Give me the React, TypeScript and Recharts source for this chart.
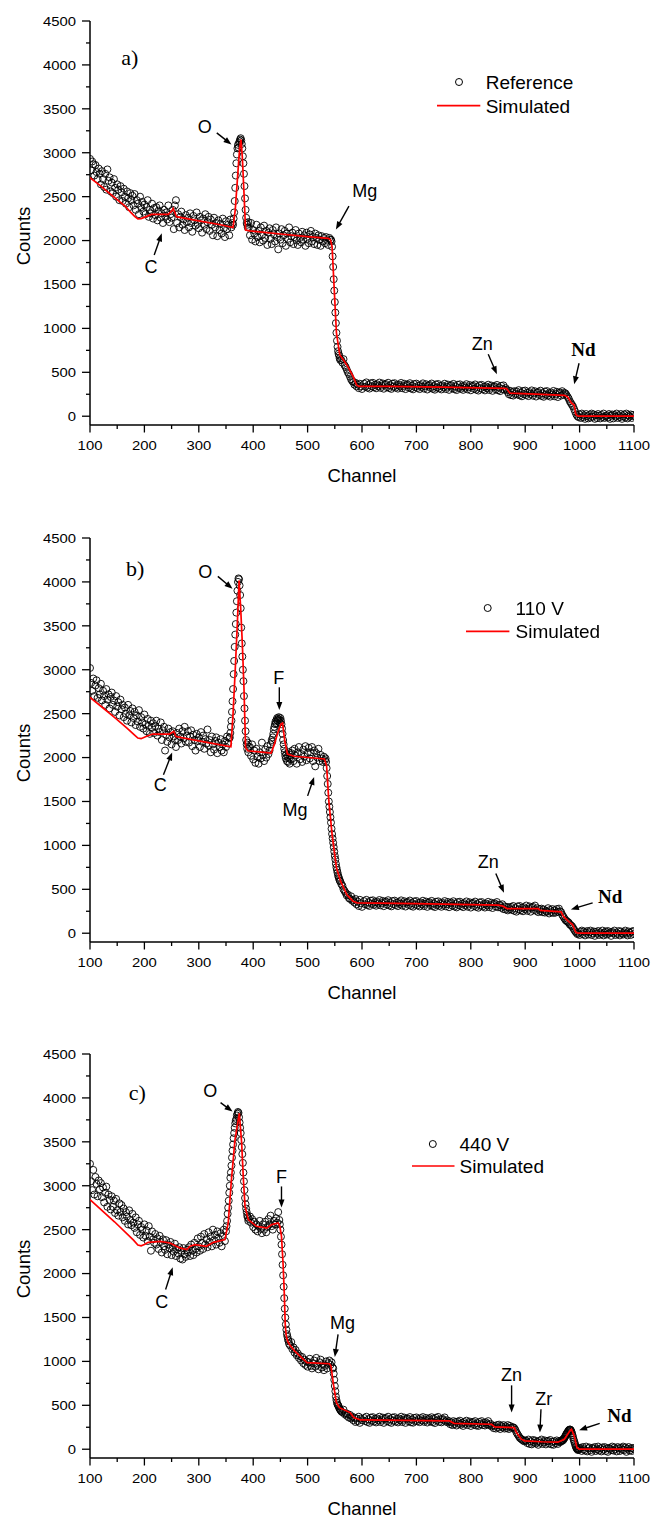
import React from 'react';
import { ComposedChart, Line, Scatter, XAxis, YAxis, ReferenceLine, ReferenceDot, Legend } from 'recharts';

// ---------------- axes ----------------
const CHANNEL_TICKS = [100, 150, 200, 250, 300, 350, 400, 450, 500, 550, 600, 650, 700, 750, 800, 850, 900, 950, 1000, 1050, 1100];
const COUNT_TICKS = [0, 250, 500, 750, 1000, 1250, 1500, 1750, 2000, 2250, 2500, 2750, 3000, 3250, 3500, 3750, 4000, 4250, 4500];
const CHANNEL_DOMAIN = [100, 1100];
const COUNT_DOMAIN = [-100, 4500];

// ---------------- panel a : Reference ----------------
// measured counts, [first channel, channel step, counts]
const refA1 = [
  2930, 2800, 2900, 2870, 2740, 2860, 2780, 2700, 2820, 2760,
  2640, 2790, 2700, 2610, 2760, 2580, 2810, 2680, 2720, 2560,
  2660, 2540, 2700, 2600, 2500, 2640, 2580, 2460, 2620, 2550,
  2450, 2590, 2500, 2420, 2560, 2480, 2380, 2540, 2460, 2510,
  2400, 2530, 2350, 2460, 2420, 2300, 2500, 2380, 2440, 2330,
  2410, 2300, 2380, 2460, 2270, 2350, 2310, 2420, 2250, 2370,
  2290, 2380, 2230, 2340, 2400, 2260, 2310, 2200, 2350, 2280,
  2320, 2240, 2400, 2210, 2300, 2260, 2350, 2130, 2400, 2460,
  2200, 2300, 2150, 2270, 2330, 2180, 2240, 2120, 2290, 2210,
  2260, 2150, 2310, 2200, 2100, 2280, 2230, 2170, 2320, 2190,
  2140, 2270, 2230, 2090, 2250, 2180, 2300, 2130, 2210, 2270,
  2110, 2240, 2180, 2060, 2260, 2150, 2200, 2050, 2230, 2120,
  2190, 2080, 2250, 2140, 2040, 2220, 2130, 2180, 2060, 2240,
  2150, 2200,
];
const refA2 = [2180, 2250, 2320, 2450, 2600, 2740, 2880, 2980, 3050, 3090, 3060, 3110, 3130, 3150, 3165, 3140, 3100, 3050, 2960, 2880, 2760, 2620, 2480, 2350, 2260, 2200, 2180, 2150, 2210];
const refA3 = [
  2150, 2060, 2200, 2010, 2120, 2080, 1990, 2180, 2040, 2110,
  1980, 2150, 2060, 2000, 2170, 2030, 2110, 1950, 2090, 2140,
  2020, 1960, 2120, 2070, 1990, 2150, 2040, 1900, 2080, 2010,
  2130, 1970, 2060, 2110, 1940, 2080, 2020, 2150, 1980, 2050,
  2090, 1960, 2040, 2120, 2000, 1950, 2080, 2030, 1980, 2100,
  2010, 2060, 1940, 2090, 2020, 1970, 2070, 2110, 1990, 2040,
  1960, 2080, 2030, 1950, 2060, 2010, 1940, 2050, 1990, 2030,
  1970, 2040, 2000, 1950, 2030, 2010,
];
const refA4 = [2010, 1990, 1930, 1820, 1700, 1560, 1430, 1300, 1180, 1060, 950, 860, 790, 740, 710, 690, 660, 640];
const refA5 = [640, 610, 650, 580, 560, 530, 500, 480, 450, 420, 400, 390, 360, 380, 340, 360, 320, 370, 340, 310];
const refA6 = [
  370, 335, 385, 325, 355, 315, 375, 340, 380, 330,
  358, 318, 363, 343, 383, 323, 348, 373, 313, 358,
  366, 331, 381, 321, 351, 311, 371, 336, 376, 326,
  354, 314, 359, 339, 379, 319, 344, 369, 309, 354,
  361, 326, 376, 316, 346, 306, 366, 331, 371, 321,
  349, 309, 354, 334, 374, 314, 339, 364, 304, 349,
  357, 322, 372, 312, 342, 302, 362, 327, 367, 317,
  345, 305, 350, 330, 370, 310, 335, 360, 300, 345,
  353, 318, 368, 308, 338, 298, 358, 323, 363, 313,
  340, 300, 345, 325, 365, 305, 330, 355, 295, 340,
  347, 312, 362, 302, 332, 292, 352, 317, 357, 307,
  334, 294, 339, 319, 359, 299, 324, 349, 289, 334,
  341, 306, 356, 296, 326, 286, 346, 311, 351, 301,
  320, 300, 275, 250, 290, 240, 275, 235, 285, 255,
  282, 247, 297, 237, 267, 227, 287, 252, 292, 242,
  269, 229, 274, 254, 294, 234, 259, 284, 224, 269,
  276, 241, 291, 231, 261, 221, 281, 246, 286, 236,
  263, 223, 268, 248, 288, 228, 253, 278, 218, 263,
  270, 235, 285, 245, 265,
];
const refA7 = [260, 240, 220, 200, 170, 150, 130, 110, 80, 50, 20, 0, -10];
const refA8 = [
  20, -20, 30, -10, 10, -30, 25, 0, -25, 15,
  -15, 30, -5, 20, -30, 10, -20, 25, 5, -25,
  15, -10, 30, -20, 0, 10, -15, 25, -30, 5,
  20, -25, 15, -5, 30, -20, 10, -10, 25, -30,
  0, 20, -15, 30, -25, 10, -5, 20, -20, 15, 0,
];
const refASegs = [[100, 2, refA1], [363, 1, refA2], [392, 2, refA3], [543, 1, refA4], [562, 2, refA5], [604, 2, refA6], [974, 2, refA7], [1000, 2, refA8]];
const simA = [
  [100, 2715], [120, 2620], [143, 2500], [165, 2390], [175, 2320], [182, 2275], [188, 2248], [194, 2250], [202, 2270], [213, 2298],
  [244, 2298], [250, 2335], [253, 2366], [256, 2320], [259, 2272], [300, 2225], [340, 2180], [363, 2148], [367, 2350], [371, 2700],
  [375, 3050], [377.6, 3151], [380, 2950], [383, 2550], [386, 2119], [394, 2110], [450, 2075], [500, 2045], [538, 2025], [542, 2010],
  [545, 1930], [549, 1440], [553, 950], [559, 700], [566, 640], [574, 565], [584, 450], [590, 356], [594, 340], [650, 340],
  [750, 332], [862, 318], [866, 312], [872, 262], [920, 252], [972, 238], [978, 220], [985, 150], [990, 128], [993, 20],
  [997, 0], [1100, 0],
];
const labelsA = [['a)', 173, 4090, 'tag'], ['O', 311, 3294, 'el'], ['C', 212, 1702, 'el'], ['Mg', 605, 2566, 'el'], ['Zn', 821, 830, 'el'], ['Nd', 1007, 762, 'nd']];
const arrowsA = [[333, 3226, 360, 3094], [218, 1835, 232, 2082], [576, 2392, 552, 2127], [832, 705, 848, 478], [999, 603, 990, 364]];

// ---------------- panel b : 110 V ----------------
const refB1 = [
  3020, 2850, 2760, 2900, 2700, 2820, 2880, 2680, 2790, 2720,
  2840, 2650, 2760, 2700, 2600, 2780, 2660, 2720, 2560, 2690,
  2740, 2600, 2650, 2520, 2700, 2580, 2630, 2480, 2660, 2550,
  2600, 2460, 2570, 2500, 2420, 2600, 2480, 2530, 2400, 2560,
  2450, 2520, 2370, 2480, 2410, 2540, 2350, 2460, 2400, 2330,
  2490, 2380, 2300, 2440, 2360, 2270, 2420, 2340, 2390, 2280,
  2360, 2420, 2250, 2330, 2290, 2400, 2200, 2310, 2350, 2080,
  2260, 2180, 2330, 2230, 2290, 2150, 2300, 2240, 2200, 2120,
  2280, 2200, 2330, 2240, 2160, 2300, 2220, 2350, 2180, 2250,
  2300, 2170, 2240, 2310, 2130, 2260, 2200, 2080, 2270, 2190,
  2230, 2120, 2290, 2180, 2250, 2100, 2210, 2160, 2320, 2140,
  2200, 2060, 2240, 2150, 2090, 2190, 2230, 2050, 2170, 2120,
  2210, 2080, 2150, 2060, 2190, 2120, 2240, 2160, 2220,
];
const refB2 = [
  2230, 2280, 2350, 2420, 2520, 2640, 2780, 2950, 3100, 3260, 3400, 3520, 3650, 3780, 3900, 4000, 4040, 4030,
  3960, 3850, 3700, 3480, 3300, 3150, 3000, 2870, 2700, 2560, 2420, 2300, 2200, 2150, 2100, 2170, 2060, 2120,
];
const refB3 = [2120, 2020, 2150, 1980, 2080, 1940, 2100, 2010, 1930, 2060, 1990, 2170, 2030, 1960, 2090, 2000, 2130, 2040, 2080, 2150, 2200];
const refB4 = [
  2180, 2230, 2270, 2320, 2350, 2380, 2410, 2390, 2430, 2450, 2420, 2440, 2460, 2430, 2400, 2450, 2420, 2380,
  2330, 2270, 2200, 2150, 2100, 2060, 2020, 1990, 2040, 1960, 2010, 1950, 2060, 1990, 1930, 2030, 1980, 2050,
];
const refB5 = [
  2080, 1960, 2100, 2020, 1930, 2060, 2120, 1980, 2040, 1950,
  2090, 2010, 2130, 1970, 2050, 2110, 1990, 2060, 2120, 1960,
  2080, 1900, 2050, 2000, 2100, 1960, 2030, 1990, 1950, 2010, 1970,
];
const refB6 = [1990, 1950, 1880, 1790, 1700, 1600, 1500, 1440, 1380, 1320, 1260, 1190, 1130, 1080, 1030, 980, 930, 880, 840, 790, 750, 720, 690, 660, 640, 620, 600, 590];
const refB7 = [560, 540, 500, 480, 460, 430, 440, 400, 390, 420, 370, 380, 350, 390, 330, 360, 310, 380, 340, 300];
const refB8 = [
  365, 330, 380, 320, 350, 310, 370, 335, 375, 325,
  353, 313, 358, 338, 378, 318, 343, 368, 308, 353,
  361, 326, 376, 316, 346, 306, 366, 331, 371, 321,
  349, 309, 354, 334, 374, 314, 339, 364, 304, 349,
  357, 322, 372, 312, 342, 302, 362, 327, 367, 317,
  345, 305, 350, 330, 370, 310, 335, 360, 300, 345,
  353, 318, 368, 308, 338, 298, 358, 323, 363, 313,
  341, 301, 346, 326, 366, 306, 331, 356, 296, 341,
  349, 314, 364, 304, 334, 294, 354, 319, 359, 309,
  337, 297, 342, 322, 362, 302, 327, 352, 292, 337,
  345, 310, 360, 300, 330, 290, 350, 315, 355, 305,
  332, 292, 337, 317, 357, 297, 322, 347, 287, 332,
  340, 305, 355, 295, 325,
];
const refB9 = [
  320, 290, 330, 275, 305, 270, 300, 260, 295, 275,
  300, 265, 310, 255, 285, 245, 305, 270, 310, 260,
  290, 250, 295, 275, 315, 255, 280, 305, 245, 290,
  300, 265, 315, 255, 285, 240, 275, 250, 280, 240,
  270, 235, 255, 245, 285, 225, 265, 240, 275, 230,
  260, 235, 275, 245, 280, 250,
];
const refB10 = [240, 210, 190, 170, 150, 140, 130, 120, 100, 90, 80, 60, 40, 20, 5, -10, 0];
const refB11 = [
  -20, 15, 30, -10, 20, -25, 5, 25, -15, 10,
  30, -20, 0, 20, -30, 15, -5, 25, -20, 10,
  -10, 30, -25, 5, 20, -15, 25, -5, 10, -30,
  15, 0, 30, -20, 5, -10, 25, -25, 20, 0,
  -15, 10, 30, -5, -25, 20, 5, -20, 15, 25, -10,
];
const refBSegs = [[100, 2, refB1], [357, 1, refB2], [394, 2, refB3], [435, 1, refB4], [472, 2, refB5], [533, 1, refB6], [562, 2, refB7], [604, 2, refB8], [854, 2, refB9], [966, 2, refB10], [1000, 2, refB11]];
const simB = [
  [100, 2686], [123, 2570], [145, 2457], [168, 2335], [182, 2255], [188, 2222], [194, 2215], [203, 2240], [215, 2268], [246, 2268],
  [254, 2297], [258, 2240], [300, 2190], [359, 2123], [363, 2500], [367, 3000], [371, 3550], [374, 4017], [377, 3700], [380, 3300],
  [383, 2800], [386, 2115], [390, 2077], [433, 2052], [439, 2153], [445, 2280], [451, 2382], [454, 2393], [458, 2191], [463, 2039],
  [475, 2015], [531, 1984], [535, 1900], [539, 1506], [545, 1126], [553, 746], [560.6, 593], [572, 441], [583.6, 365], [591, 346],
  [700, 338], [851, 320], [859, 308], [866.6, 281], [924, 281], [928, 259], [966, 243], [970, 194], [979, 137], [987, 99],
  [993, 11], [997, 0], [1100, 0],
];
const labelsB = [['b)', 183, 4153, 'tag'], ['O', 312, 4124, 'el'], ['F', 447, 2914, 'el'], ['C', 229, 1689, 'el'], ['Mg', 477, 1412, 'el'], ['Zn', 832, 822, 'el'], ['Nd', 1056, 422, 'nd']];
const arrowsB = [[335, 4063, 362, 3922], [448, 2800, 448, 2542], [235, 1803, 251, 2058], [500, 1564, 512, 1780], [846, 681, 861, 460], [1024, 346, 984, 270]];

// ---------------- panel c : 440 V ----------------
const refC1 = [
  3250, 3050, 2950, 3180, 2900, 3100, 3020, 2880, 3060, 2960,
  3030, 2870, 2980, 2810, 2920, 2990, 2760, 2900, 2840, 2730,
  2880, 2760, 2830, 2690, 2850, 2720, 2660, 2800, 2700, 2780,
  2640, 2740, 2600, 2700, 2650, 2560, 2720, 2610, 2550, 2680,
  2580, 2520, 2640, 2470, 2560, 2600, 2440, 2530, 2500, 2410,
  2560, 2430, 2490, 2370, 2540, 2420, 2260, 2480, 2390, 2350,
  2450, 2330, 2400, 2280, 2430, 2360, 2240, 2390, 2310, 2270,
  2380, 2220, 2330, 2290, 2360, 2210, 2300, 2250, 2340, 2200,
  2280, 2230, 2300, 2170, 2260, 2160, 2290, 2220, 2190, 2270,
  2240, 2300, 2200, 2330, 2260, 2210, 2350, 2280, 2240, 2400,
  2310, 2260, 2420, 2350, 2280, 2450, 2330, 2390, 2300, 2470,
  2360, 2420, 2310, 2500, 2380, 2440, 2330, 2480, 2400, 2350,
  2460, 2310, 2420, 2500, 2370, 2480,
];
const refC2 = [
  2540, 2600, 2680, 2750, 2830, 2920, 3000, 3090, 3150, 3230, 3320, 3400, 3470, 3540, 3600, 3660, 3710, 3740, 3760, 3800, 3820,
  3840, 3830, 3780, 3720, 3660, 3600, 3520, 3440, 3360, 3260, 3150, 3050, 2950, 2860, 2790, 2740, 2700, 2660, 2640, 2600, 2620,
];
const refC3 = [2650, 2580, 2620, 2530, 2590, 2500, 2560, 2480, 2540, 2600, 2510, 2460, 2560, 2500, 2590, 2470, 2530, 2620, 2560, 2660, 2540, 2500, 2600, 2560, 2630, 2580, 2700, 2610];
const refC4 = [2560, 2500, 2420, 2330, 2220, 2100, 1980, 1850, 1720, 1600, 1500, 1420, 1360, 1310, 1280, 1250, 1230, 1200];
const refC5 = [
  1180, 1220, 1140, 1160, 1100, 1130, 1070, 1090, 1040, 1060,
  1010, 1050, 980, 1020, 960, 1000, 940, 990, 1030, 950,
  920, 980, 1010, 940, 1040, 960, 910, 990, 1020, 930,
  970, 900, 950, 1000, 920, 980, 1010, 960, 990, 930,
];
const refC6 = [920, 860, 790, 720, 660, 600, 560, 530, 510, 500, 490, 470, 460, 450, 440, 430];
const refC7 = [420, 450, 400, 410, 380, 400, 360, 390, 350, 370, 330, 360, 310, 350, 320, 370, 300, 350, 330];
const refC8 = [
  355, 320, 370, 310, 340, 300, 360, 325, 365, 315,
  345, 305, 350, 330, 370, 310, 335, 360, 300, 345,
  355, 320, 370, 310, 340, 300, 360, 325, 365, 315,
  345, 305, 350, 330, 370, 310, 335, 360, 300, 345,
  350, 318, 366, 306, 338, 302, 356, 322, 362, 318,
  342, 308, 354, 328, 366, 312, 332, 356, 304, 340,
  352, 316, 364, 308, 344, 298, 358, 328, 368, 312,
  340, 306, 346, 332, 362, 314, 330, 305, 320, 285,
  305, 275, 320, 285, 310, 270, 315, 290, 325, 280,
  300, 265, 310, 290, 325, 275, 295, 315, 265, 300,
  310, 280, 320, 270, 295, 265, 310, 285, 320, 275,
  300, 270, 305, 285, 320, 275, 290, 260, 270, 240,
  265, 235, 275, 245, 280, 230, 265, 250, 275, 235,
  260, 240, 275, 230, 265, 245, 250,
];
const refC9 = [250, 240, 220, 190, 170, 150, 130, 120, 110, 100, 90, 100];
const refC10 = [
  95, 70, 110, 60, 90, 55, 105, 75, 100, 65,
  85, 50, 95, 75, 110, 60, 80, 100, 55, 90,
  95, 65, 105, 55, 85, 50, 90, 70, 100, 60,
  90, 80,
];
const refC11 = [
  90, 100, 95, 110, 105, 120, 125, 140, 150, 165, 175, 185, 195, 205, 215, 220, 225, 222,
  215, 200, 180, 160, 135, 110, 90, 70, 50, 30, 15, 5, 0, -10, 5, -5, 10,
];
const refC12 = [
  15, -20, 25, 0, -15, 30, -25, 10, 20, -10,
  -30, 15, 5, 25, -20, 0, 30, -15, 10, -25,
  20, -5, 25, -20, 10, -30, 15, 5, -10, 30,
  -15, 20, 0, -25, 25, 10, -20, 15, -5, 30,
  -10, 20, -30, 5, 25, -15, 10, -20, 15, 0,
];
const refCSegs = [[100, 2, refC1], [351, 1, refC2], [394, 2, refC3], [449, 1, refC4], [468, 2, refC5], [547, 1, refC6], [564, 2, refC7], [604, 2, refC8], [878, 2, refC9], [902, 2, refC10], [966, 1, refC11], [1002, 2, refC12]];
const simC = [
  [100, 2841], [145, 2590], [180, 2380], [188, 2325], [194, 2315], [200, 2330], [207, 2356], [229, 2367], [247, 2348], [265, 2292],
  [278, 2273], [284, 2311], [293, 2330], [314, 2311], [327, 2356], [348, 2386], [354, 2575], [360, 3068], [366.5, 3523], [374.5, 3826],
  [378.8, 3485], [382, 3068], [385, 2765], [391, 2614], [406, 2538], [425, 2519], [434, 2557], [446, 2576], [449, 2538], [452, 2424],
  [455, 2100], [457, 1800], [459, 1400], [461, 1280], [464, 1220], [468, 1180], [476, 1120], [486, 1061], [499, 985], [540, 973],
  [543, 947], [547, 758], [553, 530], [558.6, 473], [578, 417], [585, 360], [597, 333], [761, 322], [769, 295], [838, 284],
  [844, 254], [880, 246], [884, 189], [893, 114], [899, 95], [930, 85], [960, 80], [972, 114], [982, 208], [985, 227],
  [990, 152], [995, 19], [999, 0], [1100, 0],
];
const labelsC = [['c)', 187, 4072, 'tag'], ['O', 321, 4080, 'el'], ['F', 452, 3106, 'el'], ['C', 232, 1685, 'el'], ['Mg', 564, 1439, 'el'], ['Zn', 875, 845, 'el'], ['Zr', 934, 580, 'el'], ['Nd', 1073, 386, 'nd']];
const arrowsC = [[340, 3947, 362, 3845], [452, 2992, 452, 2753], [239, 1818, 252, 2071], [556, 1307, 550, 1049], [875, 727, 875, 417], [929, 455, 927, 190], [1037, 295, 999, 216]];

// ---------------- styling / layout ----------------
const SANS = '"Liberation Sans", Arial, Helvetica, sans-serif';
const SERIF = '"Liberation Serif", "Times New Roman", Times, serif';
const CHART_W = 643;
const PLOT_H = 404;
const AXIS = { stroke: '#000', strokeWidth: 1.5 };
const INNER_TICK = { stroke: '#000', strokeWidth: 1 };
const TICK_FONT = 13.5;
const TICK_STRETCH = 1.1;

const PANELS = [
  { id: 'a', name: 'Reference', segs: refASegs, sim: simA, labels: labelsA, arrows: arrowsA, height: 517,
    legend: { left: 426.7, top: 60, cx: 24, lx2: 45.3, ly: 37.7, tx: 50.7 } },
  { id: 'b', name: '110 V', segs: refBSegs, sim: simB, labels: labelsB, arrows: arrowsB, height: 516,
    legend: { left: 455.8, top: 69.3, cx: 23.7, lx2: 45.4, ly: 37.4, tx: 51.6 } },
  { id: 'c', name: '440 V', segs: refCSegs, sim: simC, labels: labelsC, arrows: arrowsC, height: 477,
    legend: { left: 401.7, top: 89, cx: 22.8, lx2: 44.5, ly: 36, tx: 49.5 } },
];

const toPoints = (segs: any[]) =>
  segs.flatMap(([start, step, counts]: [number, number, number[]]) => counts.map((v, i) => ({ ch: start + i * step, v })));

function TickText({ x, y, anchor, children }: any) {
  return (
    <text transform={`translate(${x} ${y}) scale(${TICK_STRETCH} 1)`} x={0} y={0} dy="0.36em" textAnchor={anchor}
      fontFamily={SANS} fontSize={TICK_FONT} fill="#000">
      {children}
    </text>
  );
}

function BottomTick(props: any) {
  const { x, y, payload } = props;
  const major = payload.value % 100 === 0;
  return (
    <g>
      <line x1={x} x2={x} y1={y} y2={y + (major ? 7.5 : 4)} stroke="#000" strokeWidth={1.3} />
      {major && <TickText x={x} y={y + 20} anchor="middle">{payload.value}</TickText>}
    </g>
  );
}

function LeftTick(props: any) {
  const { x, y, payload } = props;
  const major = payload.value % 500 === 0;
  return (
    <g>
      <line x1={x - (major ? 8 : 4)} x2={x} y1={y} y2={y} stroke="#000" strokeWidth={1.3} />
      {major && <TickText x={x - 14} y={y} anchor="end">{payload.value}</TickText>}
    </g>
  );
}

function XTitle(props: any) {
  const vb = props.viewBox || { x: 82, y: 417, width: 544, height: 60 };
  return (
    <text x={vb.x + vb.width / 2} y={vb.y + 50} dy="0.36em" textAnchor="middle" fontFamily={SANS} fontSize={18.5} fill="#000">
      Channel
    </text>
  );
}

function YTitle(props: any) {
  const vb = props.viewBox || { x: 0, y: 13, width: 82, height: PLOT_H };
  const cx = vb.x + 15;
  const cy = vb.y + 215;
  return (
    <text x={cx} y={cy} dy="0.36em" transform={`rotate(-90 ${cx} ${cy})`} textAnchor="middle" fontFamily={SANS} fontSize={18.5} fill="#000">
      Counts
    </text>
  );
}

const renderCircle = (p: any) => <circle cx={p.cx} cy={p.cy} r={3.5} fill="none" stroke="#000" strokeWidth={0.9} />;

function ArrowShape(props: any) {
  const { x1, y1, x2, y2 } = props;
  const dx = x2 - x1;
  const dy = y2 - y1;
  const len = Math.hypot(dx, dy) || 1;
  const ux = dx / len;
  const uy = dy / len;
  const head = 8;
  const half = 3;
  const bx = x2 - ux * head;
  const by = y2 - uy * head;
  return (
    <g>
      <line x1={x1} y1={y1} x2={bx + ux} y2={by + uy} stroke="#000" strokeWidth={1.4} />
      <polygon points={`${x2},${y2} ${bx - uy * half},${by + ux * half} ${bx + uy * half},${by - ux * half}`} fill="#000" />
    </g>
  );
}

const labelShape = (text: string, kind: string) => (p: any) => {
  const style =
    kind === 'tag'
      ? { fontFamily: SERIF, fontSize: 22, fontWeight: 400 }
      : kind === 'nd'
      ? { fontFamily: SERIF, fontSize: 19, fontWeight: 700 }
      : { fontFamily: SANS, fontSize: 18, fontWeight: 400 };
  return (
    <text x={p.cx} y={p.cy} dy="0.36em" textAnchor="middle" fill="#000" {...style}>
      {text}
    </text>
  );
};

const makeLegend = (name: string, lg: any) => () => (
  <svg width={200} height={52} style={{ display: 'block', overflow: 'visible' }}>
    <circle cx={lg.cx} cy={14} r={3.5} fill="none" stroke="#000" strokeWidth={1} />
    <text x={lg.tx} y={14} dy="0.36em" fontFamily={SANS} fontSize={19} fill="#000">{name}</text>
    <line x1={2} x2={lg.lx2} y1={lg.ly} y2={lg.ly} stroke="#ff0000" strokeWidth={1.7} />
    <text x={lg.tx} y={lg.ly} dy="0.36em" fontFamily={SANS} fontSize={19} fill="#000">Simulated</text>
  </svg>
);

function Panel({ p }: { p: any }) {
  const scatterData = toPoints(p.segs);
  const lineData = p.sim.map(([ch, v]: number[]) => ({ ch, v }));
  return (
    <ComposedChart width={CHART_W} height={p.height} margin={{ top: 13, right: 17, bottom: p.height - 13 - PLOT_H - 60, left: 0 }}>
      <XAxis xAxisId="x" dataKey="ch" type="number" domain={CHANNEL_DOMAIN} allowDataOverflow ticks={CHANNEL_TICKS} interval={0}
        tickSize={0} tickMargin={0} tickLine={false} tick={<BottomTick />} axisLine={AXIS} height={60} label={<XTitle />} />
      <XAxis xAxisId="xt" orientation="top" mirror type="number" domain={CHANNEL_DOMAIN} allowDataOverflow ticks={CHANNEL_TICKS}
        interval={0} tick={false} tickSize={3} tickLine={INNER_TICK} axisLine={AXIS} height={0} />
      <YAxis yAxisId="y" type="number" domain={COUNT_DOMAIN} allowDataOverflow ticks={COUNT_TICKS} interval={0} width={82}
        tickSize={0} tickMargin={0} tickLine={false} tick={<LeftTick />} axisLine={AXIS} label={<YTitle />} />
      <YAxis yAxisId="yr" orientation="right" mirror type="number" domain={COUNT_DOMAIN} allowDataOverflow ticks={COUNT_TICKS}
        interval={0} tick={false} tickSize={3} tickLine={INNER_TICK} axisLine={AXIS} width={0} />
      <Scatter xAxisId="x" yAxisId="y" data={scatterData} dataKey="v" shape={renderCircle} isAnimationActive={false} />
      <Line xAxisId="x" yAxisId="y" data={lineData} dataKey="v" type="linear" stroke="#ff0000" strokeWidth={1.7}
        dot={false} activeDot={false} isAnimationActive={false} zIndex={650} />
      {p.arrows.map((a: number[], i: number) => (
        <ReferenceLine key={`ar${i}`} xAxisId="x" yAxisId="y" segment={[{ x: a[0], y: a[1] }, { x: a[2], y: a[3] }]} shape={ArrowShape} />
      ))}
      {p.labels.map((l: any[], i: number) => (
        <ReferenceDot key={`lb${i}`} xAxisId="x" yAxisId="y" x={l[1]} y={l[2]} r={0} shape={labelShape(l[0], l[3])} />
      ))}
      <Legend layout="horizontal" verticalAlign="middle" align="center" content={makeLegend(p.name, p.legend)}
        wrapperStyle={{ position: 'absolute', left: p.legend.left, top: p.legend.top, width: 200, height: 52 }} />
    </ComposedChart>
  );
}

export default function App() {
  return (
    <div style={{ position: 'fixed', left: 8, top: 8, width: CHART_W, background: '#fff' }}>
      {PANELS.map((p) => (
        <div key={p.id} style={{ width: CHART_W, height: p.height }}>
          <Panel p={p} />
        </div>
      ))}
    </div>
  );
}
